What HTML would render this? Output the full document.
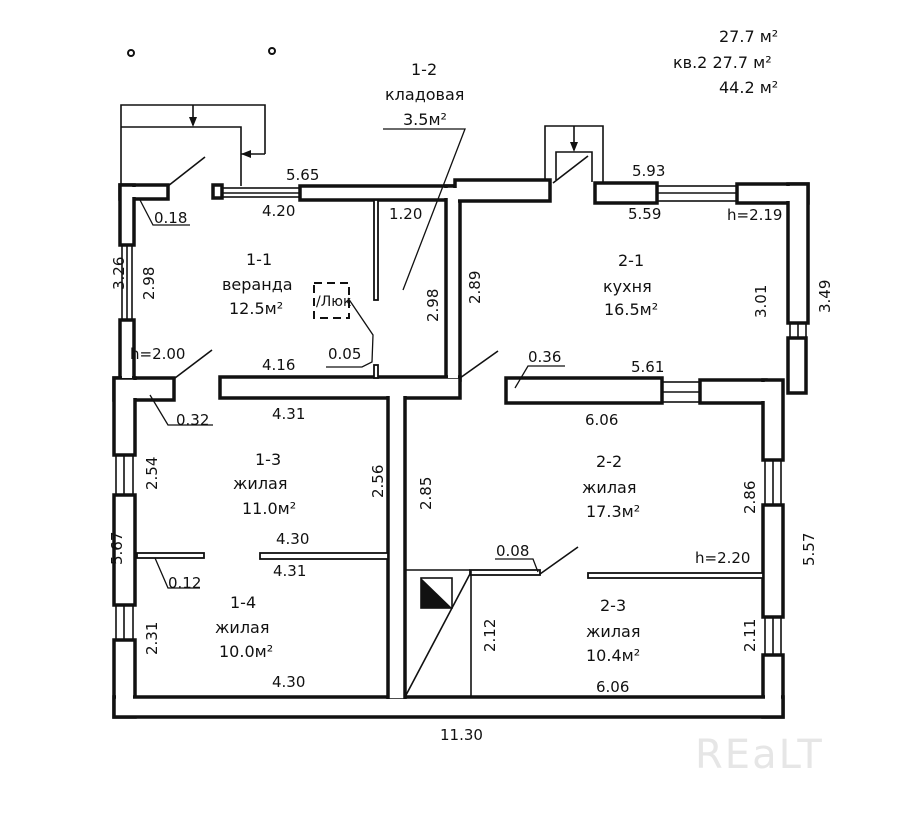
<!DOCTYPE html>
<html><head><meta charset="utf-8"><style>
html,body{margin:0;padding:0;background:#fff;}
svg{display:block;}
text{font-family:"DejaVu Sans","Liberation Sans",sans-serif;fill:#111;font-size:15px;}
</style></head><body>
<svg width="918" height="821" viewBox="0 0 918 821" xmlns="http://www.w3.org/2000/svg">
<rect width="918" height="821" fill="#fff"/>
<circle cx="131" cy="53" r="3" fill="none" stroke="#111" stroke-width="2"/>
<circle cx="272" cy="51" r="3" fill="none" stroke="#111" stroke-width="2"/>
<g stroke="#111" stroke-width="1.6" fill="none">
<polyline points="121,186 121,105 265,105 265,154"/>
<polyline points="121,127 241,127 241,186"/>
<line x1="193" y1="105" x2="193" y2="125"/>
<line x1="241" y1="154" x2="265" y2="154"/>
<polyline points="545,180 545,126 603,126 603,182"/>
<polyline points="556,180 556,152 592,152 592,182"/>
<line x1="574" y1="126" x2="574" y2="150"/>
<line x1="168" y1="186" x2="205" y2="157"/>
<line x1="553" y1="183" x2="588" y2="156"/>
<line x1="175" y1="378" x2="212" y2="350"/>
<line x1="460" y1="378" x2="498" y2="351"/>
<line x1="540" y1="574" x2="578" y2="547"/>
</g>
<polygon points="193,127 189,117 197,117" fill="#111"/>
<polygon points="241,154 251,150 251,158" fill="#111"/>
<polygon points="574,152 570,142 578,142" fill="#111"/>
<g stroke="#111" stroke-width="3.5" fill="#fff">
<rect x="120" y="185" width="48" height="14"/>
<rect x="120" y="185" width="14" height="60"/>
<rect x="120" y="320" width="14" height="60"/>
<rect x="213" y="185" width="9" height="13"/>
<rect x="300" y="186" width="160" height="14"/>
<rect x="446" y="186" width="14" height="194"/>
<rect x="455" y="180" width="95" height="21"/>
<rect x="595" y="183" width="62" height="20"/>
<rect x="737" y="184" width="71" height="19"/>
<rect x="788" y="184" width="20" height="139"/>
<rect x="788" y="338" width="18" height="55"/>
<rect x="506" y="378" width="156" height="25"/>
<rect x="700" y="380" width="66" height="23"/>
<rect x="763" y="380" width="20" height="80"/>
<rect x="763" y="505" width="20" height="112"/>
<rect x="763" y="655" width="20" height="62"/>
<rect x="114" y="378" width="60" height="22"/>
<rect x="220" y="377" width="240" height="21"/>
<rect x="114" y="378" width="21" height="77"/>
<rect x="114" y="495" width="21" height="110"/>
<rect x="114" y="640" width="21" height="77"/>
<rect x="114" y="697" width="669" height="20"/>
<rect x="388" y="392" width="17" height="308"/>
</g>
<g stroke="#111" stroke-width="1.8" fill="#fff">
<rect x="137" y="553" width="67" height="5"/>
<rect x="260" y="553" width="128" height="6"/>
<rect x="470" y="570" width="70" height="5"/>
<rect x="588" y="573" width="175" height="5"/>
<rect x="374" y="200" width="4" height="100"/>
<rect x="374" y="365" width="4" height="13"/>
</g>
<g fill="#fff">
<rect x="122" y="187" width="44" height="10"/>
<rect x="122" y="187" width="10" height="56"/>
<rect x="122" y="322" width="10" height="56"/>
<rect x="302" y="188" width="156" height="10"/>
<rect x="448" y="188" width="10" height="190"/>
<rect x="457" y="182" width="91" height="17"/>
<rect x="739" y="186" width="67" height="15"/>
<rect x="790" y="186" width="16" height="135"/>
<rect x="702" y="382" width="79" height="19"/>
<rect x="765" y="382" width="16" height="76"/>
<rect x="116" y="380" width="56" height="18"/>
<rect x="116" y="380" width="17" height="73"/>
<rect x="222" y="379" width="236" height="17"/>
<rect x="116" y="642" width="17" height="73"/>
<rect x="116" y="699" width="665" height="16"/>
<rect x="765" y="657" width="16" height="58"/>
<rect x="390" y="394" width="13" height="303"/>
</g>
<g stroke="#111" stroke-width="1.6" fill="none">
<line x1="122" y1="245" x2="122" y2="320"/><line x1="127" y1="245" x2="127" y2="320"/><line x1="132" y1="245" x2="132" y2="320"/>
<rect x="222" y="188" width="78" height="9"/><line x1="222" y1="193" x2="300" y2="193"/>
<rect x="657" y="186" width="80" height="15"/><line x1="657" y1="193" x2="737" y2="193"/>
<rect x="790" y="323" width="16" height="15"/><line x1="798" y1="323" x2="798" y2="338"/>
<rect x="662" y="382" width="38" height="20"/><line x1="662" y1="392" x2="700" y2="392"/>
<rect x="765" y="460" width="16" height="45"/><line x1="773" y1="460" x2="773" y2="505"/>
<rect x="765" y="617" width="16" height="38"/><line x1="773" y1="617" x2="773" y2="655"/>
<rect x="116" y="455" width="17" height="40"/><line x1="124" y1="455" x2="124" y2="495"/>
<rect x="116" y="605" width="17" height="35"/><line x1="124" y1="605" x2="124" y2="640"/>
</g>
<g stroke="#111" stroke-width="1.6" fill="none">
<line x1="405" y1="570" x2="470" y2="570"/>
<line x1="471" y1="570" x2="471" y2="697"/>
<line x1="405" y1="697" x2="471" y2="572"/>
<rect x="421" y="578" width="31" height="30"/>
</g>
<polygon points="421,578 452,608 421,608" fill="#111"/>
<rect x="314" y="283" width="35" height="35" fill="none" stroke="#111" stroke-width="2" stroke-dasharray="8,5"/>
<text x="316" y="306" style="font-size:14px">/Люк</text>
<g stroke="#111" stroke-width="1.3" fill="none">
<polyline points="140,200 153,225 190,225"/>
<polyline points="150,395 168,425 213,425"/>
<polyline points="155,558 168,588 200,588"/>
<polyline points="348,298 373,335 372,362 362,367 326,367"/>
<polyline points="383,129 465,129 403,290"/>
<polyline points="515,388 528,366 565,366"/>
<polyline points="495,559 533,559 538,572"/>
</g>
<text x="411" y="75" style="font-size:16px">1-2</text>
<text x="385" y="100" style="font-size:16px">кладовая</text>
<text x="403" y="125" style="font-size:16px">3.5м²</text>
<text x="719" y="42" style="font-size:16px">27.7 м²</text>
<text x="673" y="68" style="font-size:16px">кв.2 27.7 м²</text>
<text x="719" y="93" style="font-size:16px">44.2 м²</text>
<text x="286" y="180">5.65</text>
<text x="262" y="216">4.20</text>
<text x="389" y="219">1.20</text>
<text x="154" y="223">0.18</text>
<text x="246" y="265" style="font-size:16px">1-1</text>
<text x="222" y="290" style="font-size:16px">веранда</text>
<text x="229" y="314" style="font-size:16px">12.5м²</text>
<text x="130" y="359">h=2.00</text>
<text x="262" y="370">4.16</text>
<text x="328" y="359">0.05</text>
<text x="176" y="425">0.32</text>
<text x="272" y="419">4.31</text>
<text x="255" y="465" style="font-size:16px">1-3</text>
<text x="233" y="489" style="font-size:16px">жилая</text>
<text x="242" y="514" style="font-size:16px">11.0м²</text>
<text x="276" y="544">4.30</text>
<text x="273" y="576">4.31</text>
<text x="168" y="588">0.12</text>
<text x="230" y="608" style="font-size:16px">1-4</text>
<text x="215" y="633" style="font-size:16px">жилая</text>
<text x="219" y="657" style="font-size:16px">10.0м²</text>
<text x="272" y="687">4.30</text>
<text x="440" y="740">11.30</text>
<text x="632" y="176">5.93</text>
<text x="628" y="219">5.59</text>
<text x="727" y="220">h=2.19</text>
<text x="618" y="266" style="font-size:16px">2-1</text>
<text x="603" y="292" style="font-size:16px">кухня</text>
<text x="604" y="315" style="font-size:16px">16.5м²</text>
<text x="528" y="362">0.36</text>
<text x="631" y="372">5.61</text>
<text x="585" y="425">6.06</text>
<text x="596" y="467" style="font-size:16px">2-2</text>
<text x="582" y="493" style="font-size:16px">жилая</text>
<text x="586" y="517" style="font-size:16px">17.3м²</text>
<text x="496" y="556">0.08</text>
<text x="695" y="563">h=2.20</text>
<text x="600" y="611" style="font-size:16px">2-3</text>
<text x="586" y="637" style="font-size:16px">жилая</text>
<text x="586" y="661" style="font-size:16px">10.4м²</text>
<text x="596" y="692">6.06</text>
<g>
<text transform="translate(124,290) rotate(-90)">3.26</text>
<text transform="translate(154,300) rotate(-90)">2.98</text>
<text transform="translate(438,322) rotate(-90)">2.98</text>
<text transform="translate(480,304) rotate(-90)">2.89</text>
<text transform="translate(766,318) rotate(-90)">3.01</text>
<text transform="translate(830,313) rotate(-90)">3.49</text>
<text transform="translate(157,490) rotate(-90)">2.54</text>
<text transform="translate(122,565) rotate(-90)">5.67</text>
<text transform="translate(157,655) rotate(-90)">2.31</text>
<text transform="translate(383,498) rotate(-90)">2.56</text>
<text transform="translate(431,510) rotate(-90)">2.85</text>
<text transform="translate(755,514) rotate(-90)">2.86</text>
<text transform="translate(814,566) rotate(-90)">5.57</text>
<text transform="translate(495,652) rotate(-90)">2.12</text>
<text transform="translate(755,652) rotate(-90)">2.11</text>
</g>
<text x="695" y="768" style="font-size:40px;fill:#e6e6e6;letter-spacing:2px">REaLT</text>
</svg>
</body></html>
